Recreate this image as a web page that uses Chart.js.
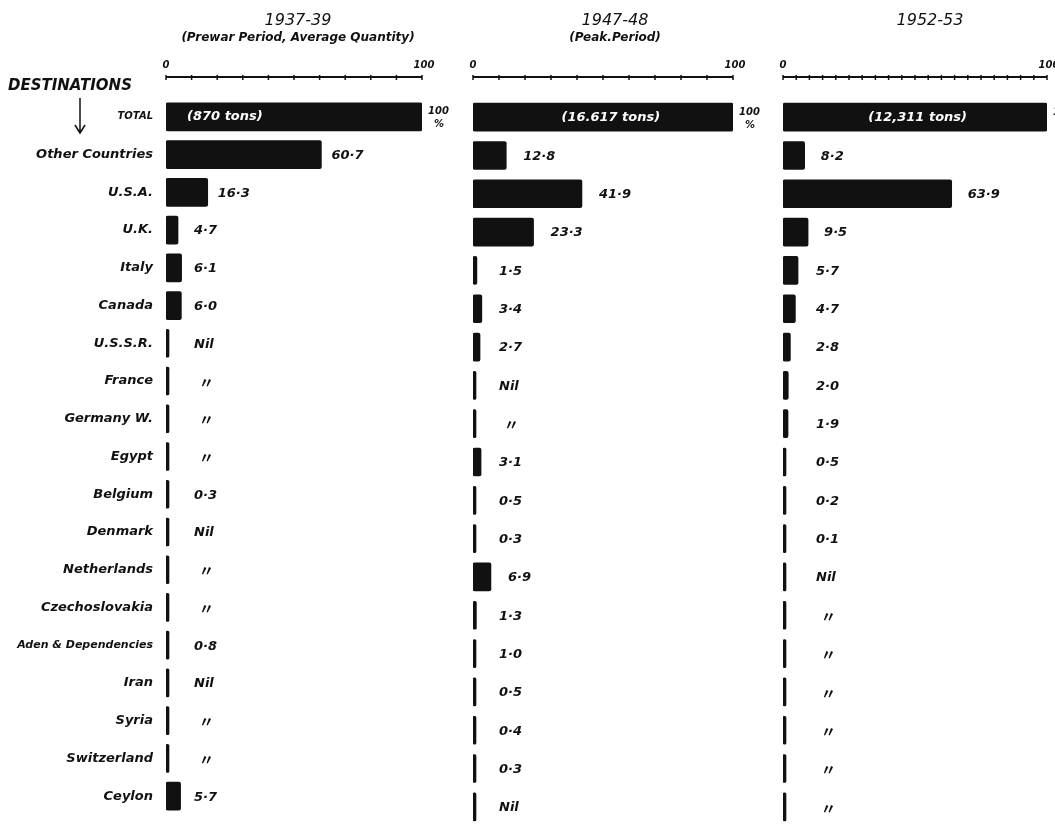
<!DOCTYPE html>
<html>
<head>
<meta charset="utf-8">
<script src="https://cdn.jsdelivr.net/npm/chart.js@4.4.1/dist/chart.umd.min.js"></script>
<style>
  body { margin: 0; background: #fff; width: 1055px; height: 826px; overflow: hidden; position: relative; }
  canvas { position: absolute; top: 0; }
</style>
</head>
<body>
<canvas id="p1" width="470" height="826" style="left:0"></canvas>
<canvas id="p2" width="320" height="826" style="left:460px"></canvas>
<canvas id="p3" width="285" height="826" style="left:770px"></canvas>
<script>
// destinations, top to bottom
const destinations = ['TOTAL', 'Other Countries', 'U.S.A.', 'U.K.', 'Italy', 'Canada', 'U.S.S.R.',
  'France', 'Germany W.', 'Egypt', 'Belgium', 'Denmark', 'Netherlands', 'Czechoslovakia',
  'Aden & Dependencies', 'Iran', 'Syria', 'Switzerland', 'Ceylon'];

// percent of each period's total (0 = Nil)
const share1937 = [100, 60.7, 16.3, 4.7, 6.1, 6.0, 0, 0, 0, 0, 0.3, 0, 0, 0, 0.8, 0, 0, 0, 5.7];
const share1947 = [100, 12.8, 41.9, 23.3, 1.5, 3.4, 2.7, 0, 0, 3.1, 0.5, 0.3, 6.9, 1.3, 1.0, 0.5, 0.4, 0.3, 0];
const share1952 = [100, 8.2, 63.9, 9.5, 5.7, 4.7, 2.8, 2.0, 1.9, 0.5, 0.2, 0.1, 0, 0, 0, 0, 0, 0, 0];

const totalTons = ['(870 tons)', '(16.617 tons)', '(12,311 tons)'];
const periodTitles = [
  ['1937-39', '(Prewar Period, Average Quantity)'],
  ['1947-48', '(Peak.Period)'],
  ['1952-53']
];
const scaleTicks = [0, 100];

const INK = '#111';
const HAND = '"DejaVu Sans", sans-serif';

function valueText(values, i) {
  const v = values[i];
  if (v > 0) return v.toFixed(1).replace('.', '·');
  return values[i - 1] > 0 ? 'Nil' : '〃';
}

const handDrawn = {
  id: 'handDrawn',
  afterDatasetsDraw(chart, args, opts) {
    const ctx = chart.ctx;
    const x = chart.scales.x;
    const bars = chart.getDatasetMeta(0).data;
    const values = chart.data.datasets[0].data;
    const x0 = x.getPixelForValue(scaleTicks[0]);
    const x1 = x.getPixelForValue(scaleTicks[1]);
    ctx.save();
    ctx.fillStyle = INK;
    ctx.strokeStyle = INK;

    // period title
    ctx.textAlign = 'center';
    ctx.textBaseline = 'middle';
    const cx = x.getPixelForValue(50) + opts.titleShift;
    ctx.font = 'italic 16px ' + HAND;
    ctx.fillText(opts.title[0], cx, 21);
    if (opts.title[1]) {
      ctx.font = 'italic bold 12px ' + HAND;
      ctx.fillText(opts.title[1], cx, 38);
    }

    // scale bar 0..100
    ctx.lineWidth = 2;
    ctx.beginPath();
    ctx.moveTo(x0, 77);
    ctx.lineTo(x1, 77);
    ctx.stroke();
    ctx.lineWidth = 1.5;
    for (let t = 0; t <= 100; t += opts.minorStep) {
      const px = x.getPixelForValue(t);
      ctx.beginPath();
      ctx.moveTo(px, 75);
      ctx.lineTo(px, 80);
      ctx.stroke();
    }
    ctx.font = 'italic bold 10px ' + HAND;
    ctx.fillText(String(scaleTicks[0]), x0, 65);
    ctx.fillText(String(scaleTicks[1]), x1 + 2, 65);

    // total bar text
    const tot = bars[0];
    ctx.fillStyle = '#fff';
    ctx.font = 'italic bold 13px ' + HAND;
    ctx.fillText(opts.tons, x.getPixelForValue(opts.tonsAt), tot.y);
    ctx.fillStyle = INK;
    ctx.font = 'italic bold 10px ' + HAND;
    ctx.textAlign = 'left';
    ctx.fillText(String(values[0]), tot.x + 6, tot.y - 5);
    ctx.fillText('%', tot.x + 12, tot.y + 8);

    // value labels
    for (let i = 1; i < bars.length; i++) {
      const b = bars[i];
      const txt = valueText(values, i);
      let lx = Math.max(b.x + opts.gap, x0 + opts.minOffset);
      if (txt === '〃') {
        lx += 5;
        ctx.font = 'bold 15px "Noto Sans CJK JP", ' + HAND;
      } else {
        ctx.font = 'italic bold 13px ' + HAND;
      }
      ctx.fillText(txt, lx, b.y + 1);
    }

    if (opts.heading) {
      ctx.font = 'italic bold 15px ' + HAND;
      ctx.fillText('DESTINATIONS', 8, 86);
      ctx.lineWidth = 1.5;
      ctx.beginPath();
      ctx.moveTo(80, 98);
      ctx.lineTo(80, 132);
      ctx.moveTo(75, 125);
      ctx.lineTo(80, 133);
      ctx.lineTo(85, 125);
      ctx.stroke();
    }
    ctx.restore();
  }
};

function makePanel(id, values, idx, pad, showNames, labelOpts) {
  new Chart(document.getElementById(id), {
    type: 'bar',
    data: {
      labels: destinations,
      datasets: [{
        data: values,
        backgroundColor: INK,
        borderRadius: 2,
        borderSkipped: false,
        barThickness: 28,
        minBarLength: 3
      }]
    },
    options: {
      indexAxis: 'y',
      responsive: false,
      animation: false,
      layout: { padding: { top: 98, bottom: 0, left: pad[0], right: pad[1] } },
      scales: {
        x: { display: false, min: 0, max: 100 },
        y: {
          display: showNames,
          grid: { display: false },
          border: { display: false },
          afterFit: (s) => { if (showNames) s.width = 166; },
          ticks: {
            color: INK,
            padding: 5,
            font: (c) => {
              const name = destinations[c.index] || '';
              let size = 13;
              if (c.index === 0) size = 10;
              else if (name.length > 16) size = 11;
              return { family: HAND, style: 'italic', weight: 'bold', size: size };
            }
          }
        }
      },
      plugins: {
        legend: { display: false },
        tooltip: { enabled: false },
        handDrawn: Object.assign({
          title: periodTitles[idx],
          tons: totalTons[idx],
          heading: showNames
        }, labelOpts)
      }
    },
    plugins: [handDrawn]
  });
}

makePanel('p1', share1937, 0, [0, 48], true, { minorStep: 10, gap: 10, minOffset: 28, tonsAt: 23, titleShift: 4 });
makePanel('p2', share1947, 1, [13, 47], false, { minorStep: 10, gap: 17, minOffset: 26, tonsAt: 53, titleShift: 12 });
makePanel('p3', share1952, 2, [13, 8], false, { minorStep: 5, gap: 16, minOffset: 33, tonsAt: 51, titleShift: 15 });
</script>
</body>
</html>
